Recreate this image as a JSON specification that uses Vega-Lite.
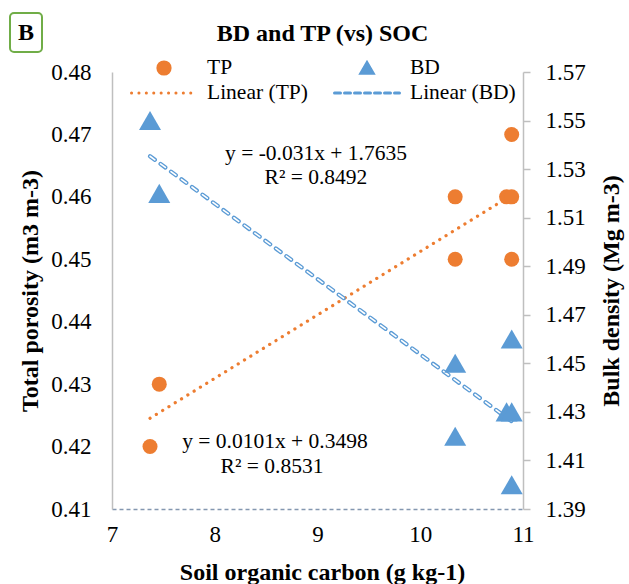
{
  "$schema": "https://vega.github.io/schema/vega-lite/v6.json",
  "width": 411,
  "height": 437,
  "autosize": {"type": "none"},
  "padding": {"left": 112, "top": 72, "right": 106, "bottom": 75},
  "background": "white",
  "title": {
    "text": "BD and TP (vs) SOC",
    "frame": "group",
    "anchor": "middle",
    "baseline": "alphabetic",
    "offset": -53,
    "dx": 5,
    "font": "'Liberation Serif', 'Times New Roman', serif",
    "fontSize": 24,
    "fontWeight": "bold",
    "color": "black"
  },
  "config": {"view": {"stroke": null}, "font": "'Liberation Serif', 'Times New Roman', serif"},
  "datasets": {
    "soil": [
      {"SOC": 7.37, "TP": 0.42, "BD": 1.55},
      {"SOC": 7.46, "TP": 0.43, "BD": 1.52},
      {"SOC": 10.34, "TP": 0.46, "BD": 1.45},
      {"SOC": 10.34, "TP": 0.45, "BD": 1.42},
      {"SOC": 10.84, "TP": 0.46, "BD": 1.43},
      {"SOC": 10.89, "TP": 0.46, "BD": 1.43},
      {"SOC": 10.89, "TP": 0.47, "BD": 1.46},
      {"SOC": 10.89, "TP": 0.45, "BD": 1.40}
    ],
    "eqTP": [
      {"SOC": 8.586, "TP": 0.4207, "label": "y = 0.0101x + 0.3498"},
      {"SOC": 8.557, "TP": 0.4167, "label": "R² = 0.8531"}
    ],
    "eqBD": [
      {"SOC": 8.985, "BD": 1.5362, "label": "y = -0.031x + 1.7635"},
      {"SOC": 8.985, "BD": 1.5263, "label": "R² = 0.8492"}
    ],
    "panel": [
      {"SOC": 6.0073, "SOC2": 6.3187, "TP": 0.48945, "TP2": 0.4832, "label": "B", "SOCc": 6.163, "TPc": 0.4862}
    ]
  },
  "encoding": {
    "x": {
      "field": "SOC",
      "type": "quantitative",
      "scale": {"domain": [7, 11], "nice": false, "zero": false},
      "axis": {
        "title": "Soil organic carbon (g kg-1)",
        "values": [7, 8, 9, 10, 11],
        "format": "d",
        "grid": false,
        "ticks": false,
        "domainColor": "#8497B0",
        "domainDash": [4, 3],
        "domainWidth": 1.5,
        "labelFont": "'Liberation Serif', 'Times New Roman', serif",
        "labelFontSize": 23,
        "labelColor": "black",
        "labelPadding": 14,
        "labelFlush": false,
        "titleFont": "'Liberation Serif', 'Times New Roman', serif",
        "titleFontSize": 24,
        "titleFontWeight": "bold",
        "titleColor": "black",
        "titleX": 210,
        "titleY": 70,
        "titleBaseline": "alphabetic"
      }
    }
  },
  "layer": [
    {
      "encoding": {
        "y": {
          "field": "TP",
          "type": "quantitative",
          "scale": {"domain": [0.41, 0.48], "nice": false, "zero": false},
          "axis": {
            "orient": "left",
            "title": "Total porosity (m3 m-3)",
            "values": [0.41, 0.42, 0.43, 0.44, 0.45, 0.46, 0.47, 0.48],
            "format": ".2f",
            "grid": false,
            "ticks": false,
            "domainColor": "#BFBFBF",
            "domainWidth": 1.5,
            "labelFont": "'Liberation Serif', 'Times New Roman', serif",
            "labelFontSize": 23,
            "labelColor": "black",
            "labelPadding": 21,
            "labelFlush": false,
            "titleFont": "'Liberation Serif', 'Times New Roman', serif",
            "titleFontSize": 24,
            "titleFontWeight": "bold",
            "titleColor": "black",
            "titleAngle": 270,
            "titleX": -82,
            "titleBaseline": "middle"
          }
        }
      },
      "layer": [
        {
          "data": {"name": "soil"},
          "transform": [{"regression": "TP", "on": "SOC"}],
          "mark": {"type": "line", "strokeDash": [0.1, 7.3], "strokeCap": "round", "strokeWidth": 3.2},
          "encoding": {
            "color": {
              "datum": "Linear (TP)",
              "scale": {
                "domain": ["TP", "BD", "Linear (TP)", "Linear (BD)"],
                "range": ["#ED7D31", "#5B9BD5", "#ED7D31", "#5B9BD5"]
              },
              "legend": {
                "orient": "none",
                "direction": "horizontal",
                "legendX": 18,
                "legendY": -16.5,
                "columns": 2,
                "title": null,
                "padding": 0,
                "rowPadding": 0,
                "columnPadding": 25,
                "clipHeight": 25,
                "symbolOffset": 0,
                "symbolSize": 4225,
                "symbolStrokeWidth": 2,
                "labelFont": "'Liberation Serif', 'Times New Roman', serif",
                "labelFontSize": 21.5,
                "labelColor": "black",
                "labelOffset": 9,
                "labelLimit": 300,
                "encode": {
                  "symbols": {
                    "update": {
                      "shape": {"signal": "datum.value == 'TP' ? 'circle' : (datum.value == 'BD' ? 'triangle-up' : 'stroke')"},
                      "size": {"signal": "(datum.value == 'TP' || datum.value == 'BD') ? 150 : 4225"},
                      "fill": {"signal": "datum.value == 'TP' ? '#ED7D31' : (datum.value == 'BD' ? '#5B9BD5' : 'transparent')"},
                      "stroke": {"signal": "datum.value == 'Linear (TP)' ? '#ED7D31' : (datum.value == 'Linear (BD)' ? '#5B9BD5' : 'transparent')"},
                      "strokeDash": {"signal": "datum.value == 'Linear (TP)' ? [0.1, 7.3] : (datum.value == 'Linear (BD)' ? [6, 4] : [])"},
                      "strokeWidth": {"value": 3},
                      "strokeCap": {"value": "round"},
                      "opacity": {"value": 1}
                    }
                  }
                }
              }
            }
          }
        },
        {
          "data": {"name": "soil"},
          "mark": {"type": "point", "shape": "circle", "filled": true, "opacity": 1, "size": 225},
          "encoding": {"color": {"datum": "TP"}}
        },
        {
          "data": {"name": "eqTP"},
          "mark": {"type": "text", "font": "'Liberation Serif', 'Times New Roman', serif", "fontSize": 21.5, "color": "black", "align": "center", "baseline": "middle"},
          "encoding": {"text": {"field": "label"}}
        },
        {
          "data": {"name": "panel"},
          "mark": {"type": "rect", "fill": "white", "stroke": "#70AD47", "strokeWidth": 2, "cornerRadius": 4},
          "encoding": {"x2": {"field": "SOC2"}, "y2": {"field": "TP2"}}
        },
        {
          "data": {"name": "panel"},
          "mark": {"type": "text", "font": "'Liberation Serif', 'Times New Roman', serif", "fontSize": 24, "fontWeight": "bold", "color": "black", "align": "center", "baseline": "middle"},
          "encoding": {
            "x": {"field": "SOCc", "type": "quantitative"},
            "y": {"field": "TPc", "type": "quantitative"},
            "text": {"field": "label"}
          }
        }
      ]
    },
    {
      "encoding": {
        "y": {
          "field": "BD",
          "type": "quantitative",
          "scale": {"domain": [1.39, 1.57], "nice": false, "zero": false},
          "axis": {
            "orient": "right",
            "title": "Bulk density (Mg m-3)",
            "values": [1.39, 1.41, 1.43, 1.45, 1.47, 1.49, 1.51, 1.53, 1.55, 1.57],
            "format": ".2f",
            "grid": false,
            "ticks": true,
            "tickSize": 7,
            "tickColor": "#BFBFBF",
            "tickWidth": 1.5,
            "domainColor": "#BFBFBF",
            "domainWidth": 1.5,
            "labelFont": "'Liberation Serif', 'Times New Roman', serif",
            "labelFontSize": 23,
            "labelColor": "black",
            "labelPadding": 15,
            "labelFlush": false,
            "titleFont": "'Liberation Serif', 'Times New Roman', serif",
            "titleFontSize": 24,
            "titleFontWeight": "bold",
            "titleColor": "black",
            "titleAngle": 270,
            "titleX": 88,
            "titleBaseline": "middle"
          }
        }
      },
      "layer": [
        {
          "data": {"name": "soil"},
          "transform": [{"regression": "BD", "on": "SOC"}],
          "mark": {"type": "line", "strokeDash": [6, 7], "strokeCap": "round", "strokeWidth": 4.2},
          "encoding": {"color": {"datum": "Linear (BD)"}}
        },
        {
          "data": {"name": "soil"},
          "transform": [{"regression": "BD", "on": "SOC"}],
          "mark": {"type": "line", "strokeDash": [6, 7], "strokeCap": "round", "strokeWidth": 1.6, "color": "white"},
          "encoding": {}
        },
        {
          "data": {"name": "soil"},
          "mark": {"type": "point", "shape": "triangle-up", "filled": true, "opacity": 1, "size": 484},
          "encoding": {"color": {"datum": "BD"}}
        },
        {
          "data": {"name": "eqBD"},
          "mark": {"type": "text", "font": "'Liberation Serif', 'Times New Roman', serif", "fontSize": 21.5, "color": "black", "align": "center", "baseline": "middle"},
          "encoding": {"text": {"field": "label"}}
        }
      ]
    }
  ],
  "resolve": {"scale": {"y": "independent"}}
}
